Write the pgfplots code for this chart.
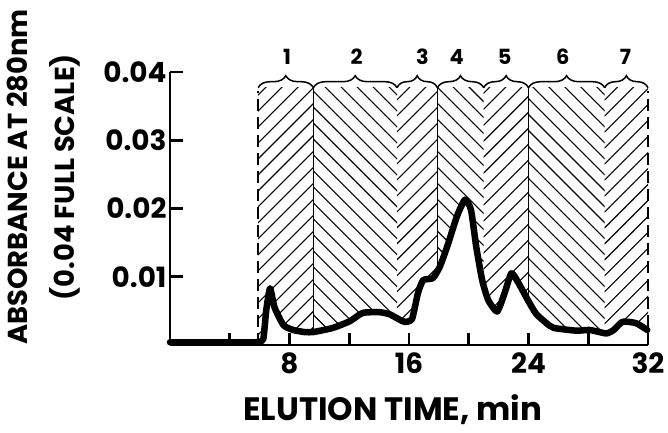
\documentclass[border=0pt]{standalone}
\usepackage{fontspec}
\setmainfont{Poppins}
\usepackage{pgfplots}
\pgfplotsset{compat=1.18}
\usetikzlibrary{patterns.meta, decorations.pathreplacing}

\pgfplotstableread{
x y
0 0.0004
5.6 0.0004
6.0 0.0005
6.25 0.0009
6.45 0.0052
6.7 0.0083
7.0 0.0055
7.6 0.0029
8.25 0.0022
9.0 0.0019
9.6 0.0019
10.9 0.0025
12.05 0.0035
12.9 0.0047
14.05 0.0048
14.7 0.0045
15.3 0.0038
15.7 0.0034
16.2 0.0038
16.6 0.0076
16.95 0.0095
17.6 0.0098
18.07 0.0115
18.6 0.0147
19.2 0.0188
19.75 0.0213
20.15 0.0198
20.5 0.0144
20.9 0.0095
21.3 0.0066
21.9 0.0049
22.4 0.0076
22.85 0.0105
23.3 0.0092
23.9 0.0068
24.5 0.0046
25.2 0.0032
25.7 0.0025
27.2 0.0021
28.1 0.0022
29.2 0.0017
29.7 0.0022
30.3 0.0034
31.2 0.0032
31.95 0.0022
}\curve

\tikzset{
  hne/.style={draw=none, pattern={Lines[angle=45,distance=11.3bp,line width=1.1bp]}},
  hnw/.style={draw=none, pattern={Lines[angle=-45,distance=11.3bp,line width=1.1bp]}},
  brc/.style={line width=1.5bp, decorate, decoration={brace, amplitude=12bp}},
  num/.style={font=\fontsize{21}{22}\selectfont\bfseries},
  bnd/.style={line width=1.3bp, dash pattern=on 12bp off 6bp},
  tickmark/.style={line width=2.8bp, draw=black, line cap=butt},
}

\begin{document}
\begin{tikzpicture}
\path[use as bounding box] (-170bp,-88bp) rectangle (498bp,345bp);
\begin{axis}[
  at={(0bp,0bp)}, anchor=south west,
  scale only axis, width=478bp, height=273bp,
  xmin=0, xmax=32, ymin=0, ymax=0.04,
  axis lines*=left,
  axis line style={line width=2.6bp},
  axis on top,
  clip=false,
  scaled y ticks=false,
  xtick={4,8,...,32}, xticklabels={,8,,16,,24,,32},
  ytick={0.01,0.02,0.03,0.04}, yticklabels={0.01,0.02,0.03,0.04},
  tick align=inside,
  major tick length=12bp,
  xtick style={draw=black, line width=2.8bp},
  ytick style={draw=black, line width=2.8bp},
  ticklabel style={font=\fontsize{28}{30}\selectfont\bfseries},
  xticklabel style={yshift=-4bp},
  xlabel={ELUTION TIME, min},
  xlabel style={at={(axis description cs:0.466,-0.236)}, anchor=center, font=\fontsize{32.5}{34}\selectfont\bfseries},
  ylabel={ABSORBANCE AT 280nm\\(0.04 FULL SCALE)},
  ylabel style={at={(axis description cs:-0.265,0.615)}, anchor=center, align=center, font=\fontsize{27.5}{47}\selectfont\bfseries},
]
% hatched fractions
\addplot[hne] coordinates {(5.9,0.0378) (9.6,0.0378)} \closedcycle;
\addplot[hnw] coordinates {(9.6,0.0378) (15.2,0.0378)} \closedcycle;
\addplot[hne] coordinates {(15.2,0.0378) (17.9,0.0378)} \closedcycle;
\addplot[hnw] coordinates {(17.9,0.0378) (21.0,0.0378)} \closedcycle;
\addplot[hne] coordinates {(21.0,0.0378) (24.0,0.0378)} \closedcycle;
\addplot[hnw] coordinates {(24.0,0.0378) (29.1,0.0378)} \closedcycle;
\addplot[hne] coordinates {(29.1,0.0378) (32.0,0.0378)} \closedcycle;
% boundaries
\addplot[bnd] coordinates {(5.9,0) (5.9,0.0372)};
\addplot[bnd] coordinates {(32,0) (32,0.0372)};
\addplot[black, line width=1.3bp] coordinates {(9.6,0) (9.6,0.0378)};
\addplot[black, line width=1.3bp] coordinates {(17.9,0) (17.9,0.0378)};
\addplot[black, line width=1.3bp] coordinates {(24.0,0) (24.0,0.0378)};
% white under the curve
\addplot[fill=white, draw=none, smooth, tension=0.35] table {\curve} \closedcycle;
% tick marks (inward)
\addplot[tickmark] coordinates {(4,0) (4,0.00176)};
\addplot[tickmark] coordinates {(8,0) (8,0.00176)};
\addplot[tickmark] coordinates {(12,0) (12,0.00176)};
\addplot[tickmark] coordinates {(16,0) (16,0.00176)};
\addplot[tickmark] coordinates {(20,0) (20,0.00176)};
\addplot[tickmark] coordinates {(24,0) (24,0.00176)};
\addplot[tickmark] coordinates {(28,0) (28,0.00176)};
\addplot[tickmark] coordinates {(0,0.01) (0.87,0.01)};
\addplot[tickmark] coordinates {(0,0.02) (0.87,0.02)};
\addplot[tickmark] coordinates {(0,0.03) (0.87,0.03)};
\addplot[tickmark] coordinates {(0,0.04) (0.87,0.04)};
% curve
\addplot[black, line width=6.5bp, smooth, tension=0.35, line join=round, line cap=round] table {\curve};
% braces
\draw[brc] (axis cs:5.9,0.0377) -- (axis cs:9.6,0.0377);
\draw[brc] (axis cs:9.6,0.0377) -- (axis cs:15.2,0.0377);
\draw[brc] (axis cs:15.2,0.0377) -- (axis cs:17.9,0.0377);
\draw[brc] (axis cs:17.9,0.0377) -- (axis cs:21.0,0.0377);
\draw[brc] (axis cs:21.0,0.0377) -- (axis cs:24.0,0.0377);
\draw[brc] (axis cs:24.0,0.0377) -- (axis cs:29.1,0.0377);
\draw[brc] (axis cs:29.1,0.0377) -- (axis cs:32.0,0.0377);
% fraction numbers
\node[num] at (axis cs:7.83,0.0422) {1};
\node[num] at (axis cs:12.5,0.0422) {2};
\node[num] at (axis cs:16.9,0.0422) {3};
\node[num] at (axis cs:19.2,0.0422) {4};
\node[num] at (axis cs:22.4,0.0422) {5};
\node[num] at (axis cs:26.3,0.0422) {6};
\node[num] at (axis cs:30.5,0.0422) {7};
\end{axis}
\end{tikzpicture}
\end{document}
